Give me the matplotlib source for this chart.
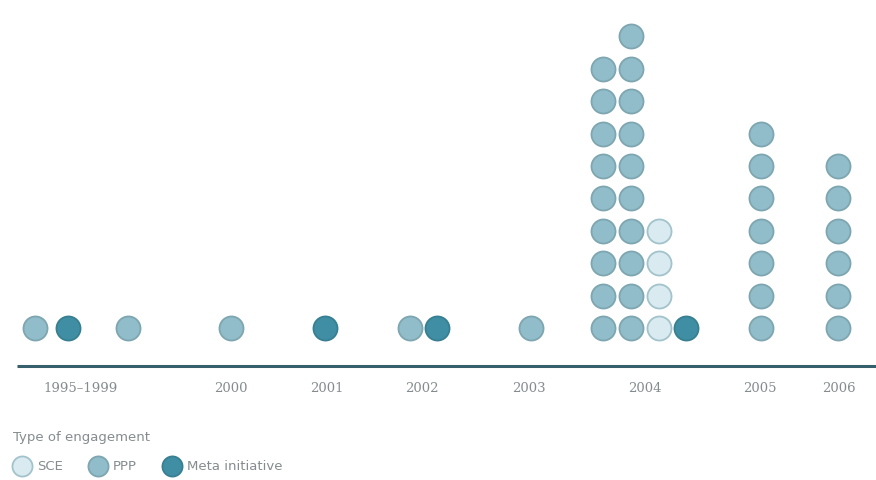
import numpy as np
import matplotlib.pyplot as plt

# periods shown on the timeline
periods = ["1995–1999", "2000", "2001", "2002", "2003", "2004", "2005", "2006"]

# each stack of dots: which period, engagement type, number of dots
stack_period = ["1995–1999", "1995–1999", "1995–1999", "2000", "2001", "2002", "2002",
                "2003", "2004", "2004", "2004", "2004", "2005", "2006"]
stack_type = ["PPP", "Meta", "PPP", "PPP", "Meta", "PPP", "Meta",
              "PPP", "PPP", "PPP", "SCE", "Meta", "PPP", "PPP"]
stack_count = [1, 1, 1, 1, 1, 1, 1, 1, 9, 10, 4, 1, 7, 6]

# legend
legend_types = ["SCE", "PPP", "Meta"]
legend_names = ["SCE", "PPP", "Meta initiative"]

# layout (pixel units of the 876x480 canvas)
label_x = [81, 231, 327, 422, 529, 645, 760, 839]
stack_x = [35, 68, 128, 231, 325, 410, 437, 531, 603, 631, 659, 686, 761, 838]
legend_x = [22, 98, 172]
base_y = 328
row_step = 32.4

styles = {
    "SCE": dict(fc="#d9eaf0", ec="#a3c3cc"),
    "PPP": dict(fc="#90bdc9", ec="#7ea6b1"),
    "Meta": dict(fc="#3f8ea3", ec="#387f91"),
}
text_col = "#858c8f"

fig = plt.figure(figsize=(8.76, 4.8), dpi=100)
ax = fig.add_axes([0, 0, 1, 1])
ax.set_xlim(0, 876)
ax.set_ylim(480, 0)
ax.axis("off")

for x, t, n in zip(stack_x, stack_type, stack_count):
    ys = base_y - row_step * np.arange(n)
    ax.scatter(np.full(n, x), ys, s=300, c=styles[t]["fc"],
               edgecolors=styles[t]["ec"], linewidths=1.3, zorder=3)

# baseline
ax.plot([17, 876], [366, 366], color="#35606c", lw=2.2, solid_capstyle="butt")

for lx, p in zip(label_x, periods):
    ax.text(lx, 389, p, ha="center", va="center", fontsize=9.5, color=text_col,
            family="DejaVu Serif")

ax.text(13, 437, "Type of engagement", ha="left", va="center", fontsize=9.5, color=text_col)
for lx, t, name in zip(legend_x, legend_types, legend_names):
    ax.scatter([lx], [466], s=210, c=styles[t]["fc"], edgecolors=styles[t]["ec"],
               linewidths=1.3, zorder=3)
    ax.text(lx + 15, 466, name, ha="left", va="center", fontsize=9.5, color=text_col)

fig.savefig("out.png", dpi=100)
